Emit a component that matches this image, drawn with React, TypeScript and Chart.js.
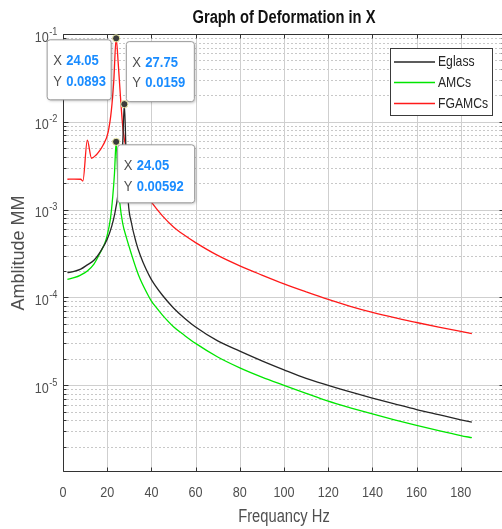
import React, { useEffect, useRef } from "react";
import { Chart, registerables } from "chart.js";

Chart.register(...registerables);

// ---------------- data ----------------
const TITLE = "Graph of Deformation in X";
const X_LABEL = "Frequancy Hz";
const Y_LABEL = "Amblitude MM";

const SERIES_NAMES = ["Eglass", "AMCs", "FGAMCs"];
const SERIES_COLORS = ["#262626", "#00e600", "#ff1a1a"];

const FREQ_EGLASS = [2, 5, 8, 11, 14, 17, 20, 22, 23.5, 25, 26, 27, 27.75, 28.5, 29.5, 31, 33, 35, 37.5, 40, 45, 50, 55, 60, 70, 80, 90, 100, 110, 120, 130, 140, 150, 160, 170, 180, 185];
const AMP_EGLASS = [1.92e-4, 1.98e-4, 2.1e-4, 2.35e-4, 2.65e-4, 3.35e-4, 4.6e-4, 6.4e-4, 9.2e-4, 1.55e-3, 2.6e-3, 5.5e-3, 0.0159, 4.8e-3, 1.25e-3, 7.0e-4, 4.3e-4, 3.0e-4, 2.12e-4, 1.6e-4, 1.06e-4, 7.6e-5, 5.8e-5, 4.6e-5, 3.2e-5, 2.45e-5, 1.9e-5, 1.5e-5, 1.2e-5, 1.0e-5, 8.4e-6, 7.15e-6, 6.15e-6, 5.3e-6, 4.63e-6, 4.05e-6, 3.8e-6];

const FREQ_AMC = [2, 5, 8, 11, 14, 17, 19, 20, 21.5, 22.5, 23.3, 24.05, 24.8, 25.7, 27, 28.7, 31, 33.2, 35, 38.5, 40, 42, 45, 50, 55, 60, 70, 80, 90, 100, 110, 120, 130, 140, 150, 160, 170, 180, 185];
const AMP_AMC = [1.61e-4, 1.68e-4, 1.8e-4, 2.0e-4, 2.4e-4, 3.3e-4, 4.2e-4, 5.1e-4, 8.0e-4, 1.4e-3, 2.6e-3, 5.92e-3, 2.4e-3, 1.2e-3, 7.0e-4, 4.8e-4, 3.1e-4, 2.1e-4, 1.6e-4, 1.06e-4, 9.1e-5, 7.8e-5, 6.3e-5, 4.65e-5, 3.7e-5, 3.0e-5, 2.1e-5, 1.58e-5, 1.24e-5, 1.0e-5, 8.1e-6, 6.6e-6, 5.55e-6, 4.72e-6, 4.05e-6, 3.5e-6, 3.05e-6, 2.68e-6, 2.53e-6];

const FREQ_FG = [2, 5, 8, 9, 11, 12.9, 15, 16.6, 18.1, 20.4, 21.9, 23, 24.05, 25, 26, 27.2, 29, 32, 36, 40, 45, 50, 55, 60, 70, 80, 90, 100, 110, 120, 130, 140, 150, 160, 170, 180, 185];
const AMP_FG = [2.22e-3, 2.23e-3, 2.22e-3, 2.12e-3, 6.2e-3, 3.85e-3, 4.2e-3, 4.7e-3, 5.4e-3, 7.6e-3, 1.36e-2, 3.0e-2, 0.0893, 4.6e-2, 1.93e-2, 8.0e-3, 4.5e-3, 2.6e-3, 1.7e-3, 1.22e-3, 8.5e-4, 6.35e-4, 5.1e-4, 4.21e-4, 3.01e-4, 2.29e-4, 1.8e-4, 1.43e-4, 1.16e-4, 9.5e-5, 7.94e-5, 6.76e-5, 5.88e-5, 5.19e-5, 4.6e-5, 4.1e-5, 3.88e-5];

const X_MIN = 0;
const X_MAX = 200;
const X_TICKS = [0, 20, 40, 60, 80, 100, 120, 140, 160, 180];
const Y_MIN = 1.03e-6;
const Y_MAX = 1e-1;
const Y_DECADE_EXPONENTS = [-1, -2, -3, -4, -5];

// data tips
const TIP_X = [24.05, 27.75, 24.05];
const TIP_Y = [0.0893, 0.0159, 0.00592];

// ---------------- styling ----------------
const FONT = "'Liberation Sans', Arial, sans-serif";
const SX = 0.84; // horizontal text compression of the reference
const AXIS_COLOR = "#333333";
const TICK_TEXT = "#4f4f4f";
const MAJOR_GRID = "#cfcfcf";
const MINOR_GRID = "#c8c8c8";

// box placement relative to marker (layout only)
const TIP_BOXES = [
  { dx: -69.5, dy: 1, w: 64, h: 60 },
  { dx: 1.5, dy: -63, w: 68, h: 60 },
  { dx: 1, dy: 2.5, w: 77, h: 58 },
];

function toPoints(xs: number[], ys: number[]) {
  return xs.map((x, i) => ({ x, y: ys[i] }));
}

function drawText(
  ctx: CanvasRenderingContext2D,
  text: string,
  x: number,
  y: number,
  font: string,
  color: string,
  align: CanvasTextAlign,
  sx: number = SX
) {
  ctx.save();
  ctx.font = font;
  ctx.fillStyle = color;
  ctx.textAlign = align;
  ctx.textBaseline = "middle";
  ctx.translate(x, y);
  ctx.scale(sx, 1);
  ctx.fillText(text, 0, 0);
  ctx.restore();
}

function textWidth(ctx: CanvasRenderingContext2D, text: string, font: string, sx: number = SX) {
  ctx.save();
  ctx.font = font;
  const w = ctx.measureText(text).width * sx;
  ctx.restore();
  return w;
}

const decorPlugin = {
  id: "decor",
  beforeDatasetsDraw(chart: any) {
    const { ctx, chartArea: a, scales } = chart;
    const x = scales.x;
    const y = scales.y;
    ctx.save();
    ctx.lineWidth = 1;
    ctx.strokeStyle = MINOR_GRID;
    ctx.setLineDash([2, 2]);
    for (let e = -6; e <= -2; e++) {
      for (let m = 2; m <= 9; m++) {
        const v = m * Math.pow(10, e);
        if (v <= Y_MIN || v >= Y_MAX) continue;
        const py = Math.round(y.getPixelForValue(v)) + 0.5;
        ctx.beginPath();
        ctx.moveTo(a.left, py);
        ctx.lineTo(a.right, py);
        ctx.stroke();
      }
    }
    ctx.setLineDash([]);
    ctx.strokeStyle = MAJOR_GRID;
    for (const e of Y_DECADE_EXPONENTS) {
      const py = Math.round(y.getPixelForValue(Math.pow(10, e))) + 0.5;
      ctx.beginPath();
      ctx.moveTo(a.left, py);
      ctx.lineTo(a.right, py);
      ctx.stroke();
    }
    for (const t of X_TICKS) {
      const px = Math.round(x.getPixelForValue(t)) + 0.5;
      ctx.beginPath();
      ctx.moveTo(px, a.top);
      ctx.lineTo(px, a.bottom);
      ctx.stroke();
    }
    ctx.restore();
  },
  afterDatasetsDraw(chart: any) {
    const { ctx, chartArea: a, scales } = chart;
    const x = scales.x;
    const y = scales.y;
    ctx.save();

    // axes box
    ctx.strokeStyle = AXIS_COLOR;
    ctx.lineWidth = 1;
    const L = Math.round(a.left) + 0.5;
    const R = Math.round(a.right) - 0.5;
    const T = Math.round(a.top) + 0.5;
    const B = Math.round(a.bottom) - 0.5;
    ctx.beginPath();
    ctx.moveTo(L, T);
    ctx.lineTo(R, T);
    ctx.lineTo(R, B);
    ctx.lineTo(L, B);
    ctx.closePath();
    ctx.stroke();

    // ticks (inward)
    ctx.beginPath();
    for (const t of X_TICKS) {
      const px = Math.round(x.getPixelForValue(t)) + 0.5;
      ctx.moveTo(px, B);
      ctx.lineTo(px, B - 4);
      ctx.moveTo(px, T);
      ctx.lineTo(px, T + 4);
    }
    for (const e of Y_DECADE_EXPONENTS) {
      const py = Math.round(y.getPixelForValue(Math.pow(10, e))) + 0.5;
      ctx.moveTo(L, py);
      ctx.lineTo(L + 5, py);
      ctx.moveTo(R, py);
      ctx.lineTo(R - 5, py);
    }
    for (let e = -6; e <= -2; e++) {
      for (let m = 2; m <= 9; m++) {
        const v = m * Math.pow(10, e);
        if (v <= Y_MIN || v >= Y_MAX) continue;
        const py = Math.round(y.getPixelForValue(v)) + 0.5;
        ctx.moveTo(L, py);
        ctx.lineTo(L + 3, py);
        ctx.moveTo(R, py);
        ctx.lineTo(R - 3, py);
      }
    }
    ctx.stroke();

    // title
    const cx = (a.left + a.right) / 2;
    drawText(ctx, TITLE, cx, 18.5, `bold 17.5px ${FONT}`, "#111111", "center");
    // x label
    drawText(ctx, X_LABEL, cx, 517, `17.5px ${FONT}`, TICK_TEXT, "center");

    // x tick labels
    for (const t of X_TICKS) {
      drawText(ctx, String(t), x.getPixelForValue(t), a.bottom + 21, `15px ${FONT}`, TICK_TEXT, "center");
    }

    // y tick labels 10^e
    const baseFont = `15px ${FONT}`;
    const expFont = `11px ${FONT}`;
    for (const e of Y_DECADE_EXPONENTS) {
      const py = y.getPixelForValue(Math.pow(10, e));
      const exp = String(e);
      const ew = textWidth(ctx, exp, expFont);
      const bw = textWidth(ctx, "10", baseFont);
      const right = a.left - 5.5;
      drawText(ctx, "10", right - ew - bw - 0.5, py + 3.5, baseFont, TICK_TEXT, "left");
      drawText(ctx, exp, right - ew, py - 2.5, expFont, TICK_TEXT, "left");
    }

    // legend
    const lw = 102;
    const lh = 67;
    const lx = a.right - 115;
    const ly = a.top + 14;
    ctx.fillStyle = "#ffffff";
    ctx.fillRect(lx, ly, lw, lh);
    ctx.strokeStyle = "#3a3a3a";
    ctx.lineWidth = 1;
    ctx.strokeRect(lx + 0.5, ly + 0.5, lw, lh);
    const rows = [14, 34.5, 55.5];
    chart.data.datasets.forEach((ds: any, i: number) => {
      const ry = ly + rows[i];
      ctx.strokeStyle = ds.borderColor;
      ctx.lineWidth = 1.3;
      ctx.beginPath();
      ctx.moveTo(lx + 4, ry);
      ctx.lineTo(lx + 45, ry);
      ctx.stroke();
      drawText(ctx, ds.label, lx + 48, ry, `14.5px ${FONT}`, "#262626", "left");
    });

    // data tips
    TIP_X.forEach((tx, i) => {
      const mx = x.getPixelForValue(tx);
      const my = y.getPixelForValue(TIP_Y[i]);
      const bx = TIP_BOXES[i];
      const left = mx + bx.dx;
      const top = my + bx.dy;
      ctx.save();
      ctx.shadowColor = "rgba(0,0,0,0.28)";
      ctx.shadowBlur = 3;
      ctx.shadowOffsetX = 1;
      ctx.shadowOffsetY = 1;
      ctx.fillStyle = "#ffffff";
      ctx.beginPath();
      (ctx as any).roundRect(left + 0.5, top + 0.5, bx.w, bx.h, 3);
      ctx.fill();
      ctx.restore();
      ctx.strokeStyle = "#9a9a9a";
      ctx.lineWidth = 1;
      ctx.beginPath();
      (ctx as any).roundRect(left + 0.5, top + 0.5, bx.w, bx.h, 3);
      ctx.stroke();

      const rowsY = [top + 21.5, top + 42];
      const labels = ["X", "Y"];
      const values = [String(tx), String(TIP_Y[i])];
      for (let r = 0; r < 2; r++) {
        drawText(ctx, labels[r], left + 6.5, rowsY[r], `15.5px ${FONT}`, "#4f4f4f", "left");
        drawText(ctx, values[r], left + 19.5, rowsY[r], `bold 15.5px ${FONT}`, "#1a8cff", "left");
      }

      // marker
      ctx.beginPath();
      ctx.arc(mx, my, 3.6, 0, Math.PI * 2);
      ctx.fillStyle = "#3c3c3c";
      ctx.fill();
      ctx.strokeStyle = "#eeeeaa";
      ctx.lineWidth = 1;
      ctx.stroke();
    });

    ctx.restore();
  },
};

export default function App() {
  const ref = useRef<HTMLCanvasElement | null>(null);

  useEffect(() => {
    if (!ref.current) return;
    const seriesX = [FREQ_EGLASS, FREQ_AMC, FREQ_FG];
    const seriesY = [AMP_EGLASS, AMP_AMC, AMP_FG];
    const chart = new Chart(ref.current, {
      type: "line",
      data: {
        datasets: SERIES_NAMES.map((name, i) => ({
          label: name,
          data: toPoints(seriesX[i], seriesY[i]),
          borderColor: SERIES_COLORS[i],
          backgroundColor: SERIES_COLORS[i],
          borderWidth: 1.3,
          pointRadius: 0,
          fill: false,
          cubicInterpolationMode: "monotone" as const,
        })),
      },
      options: {
        animation: false,
        responsive: false,
        devicePixelRatio: 1,
        layout: { padding: { top: 34, right: 7, bottom: 0, left: 0 } },
        plugins: {
          legend: { display: false },
          tooltip: { enabled: false },
          title: { display: false },
        },
        scales: {
          x: {
            type: "linear",
            position: "bottom",
            min: X_MIN,
            max: X_MAX,
            grid: { display: false },
            border: { display: false },
            ticks: { display: false },
            afterFit: (s: any) => {
              s.height = 57;
            },
          },
          y: {
            type: "logarithmic",
            position: "left",
            min: Y_MIN,
            max: Y_MAX,
            grid: { display: false },
            border: { display: false },
            ticks: { display: false },
            title: {
              display: true,
              text: Y_LABEL,
              color: "#4f4f4f",
              font: { family: FONT, size: 18 },
              padding: { top: 8.5, bottom: 0 },
            },
            afterFit: (s: any) => {
              s.width = 63;
            },
          },
        },
      },
      plugins: [decorPlugin],
    } as any);
    return () => chart.destroy();
  }, []);

  return (
    <div
      style={{
        position: "fixed",
        left: 0,
        top: 0,
        width: 502,
        height: 529,
        overflow: "hidden",
        background: "#ffffff",
      }}
    >
      <canvas
        ref={ref}
        width={512}
        height={529}
        style={{ display: "block", width: 512, height: 529 }}
      />
    </div>
  );
}
